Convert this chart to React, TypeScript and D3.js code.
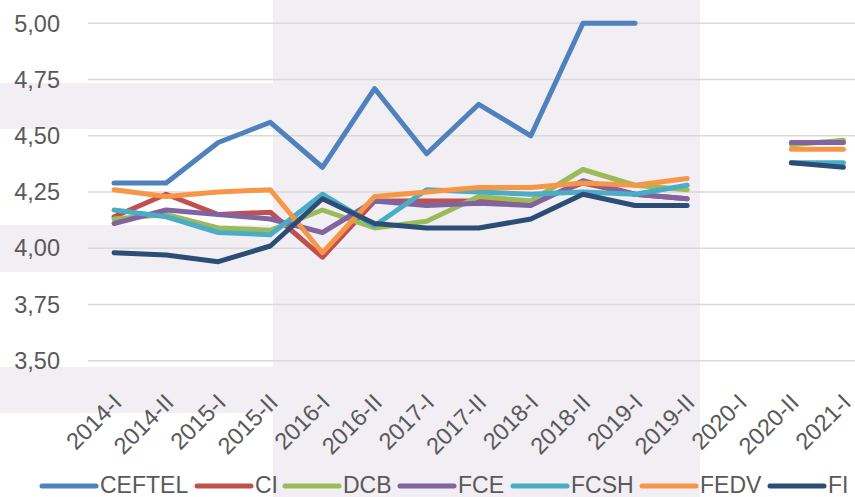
import React from "react";
import * as d3 from "d3";

const categories = ["2014-I","2014-II","2015-I","2015-II","2016-I","2016-II","2017-I","2017-II","2018-I","2018-II","2019-I","2019-II","2020-I","2020-II","2021-I"];
const yTicks = [3.5, 3.75, 4.0, 4.25, 4.5, 4.75, 5.0];

const CEFTEL = [4.29,4.29,4.47,4.56,4.36,4.71,4.42,4.64,4.50,5.00,5.00,null,null,null,null];
const CI     = [4.14,4.24,4.15,4.16,3.96,4.21,4.21,4.21,4.20,4.29,4.24,4.22,null,null,null];
const DCB    = [4.13,4.15,4.09,4.08,4.17,4.09,4.12,4.23,4.21,4.35,4.28,4.26,null,4.46,4.48];
const FCE    = [4.11,4.17,4.15,4.13,4.07,4.21,4.19,4.20,4.19,4.30,4.24,4.22,null,4.47,4.47];
const FCSH   = [4.17,4.14,4.07,4.06,4.24,4.10,4.26,4.25,4.24,4.25,4.24,4.28,null,4.38,4.38];
const FEDV   = [4.26,4.23,4.25,4.26,3.98,4.23,4.25,4.27,4.27,4.29,4.28,4.31,null,4.44,4.44];
const FI     = [3.98,3.97,3.94,4.01,4.22,4.11,4.09,4.09,4.13,4.24,4.19,4.19,null,4.38,4.36];

const seriesNames = ["CEFTEL","CI","DCB","FCE","FCSH","FEDV","FI"];
const seriesValues = [CEFTEL, CI, DCB, FCE, FCSH, FEDV, FI];
const seriesColors = ["#4F81BD","#C0504D","#9BBB59","#8064A2","#4BACC6","#F79646","#2C4D75"];

const W = 855, H = 497;
const legendX = [42, 197, 285, 400, 513, 642, 770];
const fmt = (v: number) => v.toFixed(2).replace(".", ",");

export default function App() {
  const x = d3.scaleBand<string>().domain(categories).range([88, 88 + 15 * 52.1]);
  const cx = (c: string) => (x(c) as number) + x.bandwidth() / 2;
  const y = d3.scaleLinear().domain([3.5, 5.0]).range([360.7, 23.3]);
  const line = d3
    .line<number | null>()
    .defined((d) => d != null)
    .x((_, i) => cx(categories[i]))
    .y((d) => y(d as number));
  const bg = "#F1EEF4";
  const font = "'Liberation Sans', Arial, sans-serif";
  return (
    <svg width={W} height={H} style={{ position: "absolute", left: 0, top: 0, background: "#fff" }}>
      <rect x={273} y={0} width={427} height={H} fill={bg} />
      <rect x={0} y={83} width={273} height={46} fill={bg} />
      <rect x={0} y={225} width={273} height={47} fill={bg} />
      <rect x={0} y={367} width={273} height={46} fill={bg} />
      {yTicks.map((t) => (
        <g key={t}>
          <line x1={88} x2={W} y1={y(t)} y2={y(t)} stroke="#d9d9d9" strokeWidth={1.5} />
          <text x={60} y={y(t)} dy="0.35em" textAnchor="end" fontFamily={font} fontSize={23.5} fill="#595959">
            {fmt(t)}
          </text>
        </g>
      ))}
      {seriesValues.map((vals, i) => (
        <path key={seriesNames[i]} d={line(vals) || ""} fill="none" stroke={seriesColors[i]} strokeWidth={5} strokeLinejoin="round" strokeLinecap="round" />
      ))}
      {categories.map((c) => (
        <text key={c} transform={`translate(${cx(c) + 9},${404}) rotate(-45)`} textAnchor="end" fontFamily={font} fontSize={23.5} fill="#595959">
          {c}
        </text>
      ))}
      {seriesNames.map((n, i) => (
        <g key={n}>
          <line x1={legendX[i]} x2={legendX[i] + 54} y1={486} y2={486} stroke={seriesColors[i]} strokeWidth={5} strokeLinecap="round" />
          <text x={legendX[i] + 58} y={493} fontFamily={font} fontSize={23} fill="#595959">
            {n}
          </text>
        </g>
      ))}
    </svg>
  );
}
